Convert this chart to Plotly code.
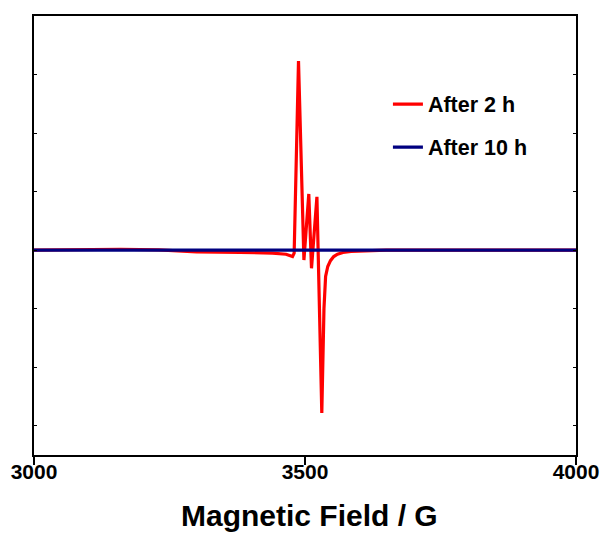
import plotly.graph_objects as go

# Red spectrum (After 2 h): magnetic field (G) and intensity (a.u.)
field_2h = [3000, 3080, 3160, 3230, 3300, 3380, 3440, 3465, 3472, 3477, 3480, 3488,
            3498, 3507, 3512, 3522, 3531, 3535, 3538, 3542, 3547, 3553, 3560, 3570,
            3585, 3610, 3650, 3800, 3900, 4000]
int_2h = [0.0, 0.01, 0.015, 0.005, -0.03, -0.04, -0.05, -0.07, -0.09, -0.11, -0.05, 3.23,
          -0.17, 0.96, -0.31, 0.91, -2.78, -1.0, -0.45, -0.28, -0.18, -0.11, -0.07, -0.04,
          -0.02, -0.01, 0.0, 0.0, 0.0, 0.0]

# Blue spectrum (After 10 h)
field_10h = [3000, 3250, 3500, 3750, 4000]
int_10h = [0.0, 0.0, 0.0, 0.0, 0.0]

x_ticks = [3000, 3500, 4000]
x_title = "Magnetic Field / G"

FONT = "Arial, Liberation Sans, sans-serif"

fig = go.Figure()
fig.add_trace(go.Scatter(x=field_2h, y=int_2h, mode="lines", name="<b>After 2 h</b>",
                         line=dict(color="#ff0000", width=3.2), legendgroup="a"))
fig.add_trace(go.Scatter(x=field_10h, y=int_10h, mode="lines", name="<b>After 10 h</b>",
                         line=dict(color="#000080", width=3.2), legendgroup="b"))

fig.update_layout(
    width=603, height=536,
    margin=dict(l=34, r=27, t=16, b=81),
    paper_bgcolor="white", plot_bgcolor="white",
    font=dict(family=FONT, color="black"),
    showlegend=True,
    legend=dict(x=0.653, y=0.846, xanchor="left", yanchor="top",
                bgcolor="rgba(0,0,0,0)", font=dict(size=21.5, family=FONT, color="black"),
                tracegroupgap=12),
    xaxis=dict(range=[3000, 4000], tickvals=x_ticks, ticktext=[f"<b>{v}</b>" for v in x_ticks],
               showline=True, linecolor="black", linewidth=2, mirror=True,
               ticks="outside", ticklen=8, tickwidth=2, tickcolor="black",
               tickfont=dict(size=21, family=FONT, color="black"), ticklabelstandoff=-11,
               showgrid=False, zeroline=False, automargin=False),
    yaxis=dict(range=[-3.5, 4], dtick=1, tick0=0, showticklabels=False,
               showline=True, linecolor="black", linewidth=2, mirror="ticks",
               ticks="inside", ticklen=3, tickwidth=1, tickcolor="black",
               showgrid=False, zeroline=False, automargin=False),
    annotations=[dict(text=f"<b>{x_title}</b>", xref="paper", yref="paper",
                      x=0.509, y=-0.137, xanchor="center", yanchor="middle",
                      showarrow=False, font=dict(size=30, family=FONT, color="black"))],
)

fig.write_html("out.html")
